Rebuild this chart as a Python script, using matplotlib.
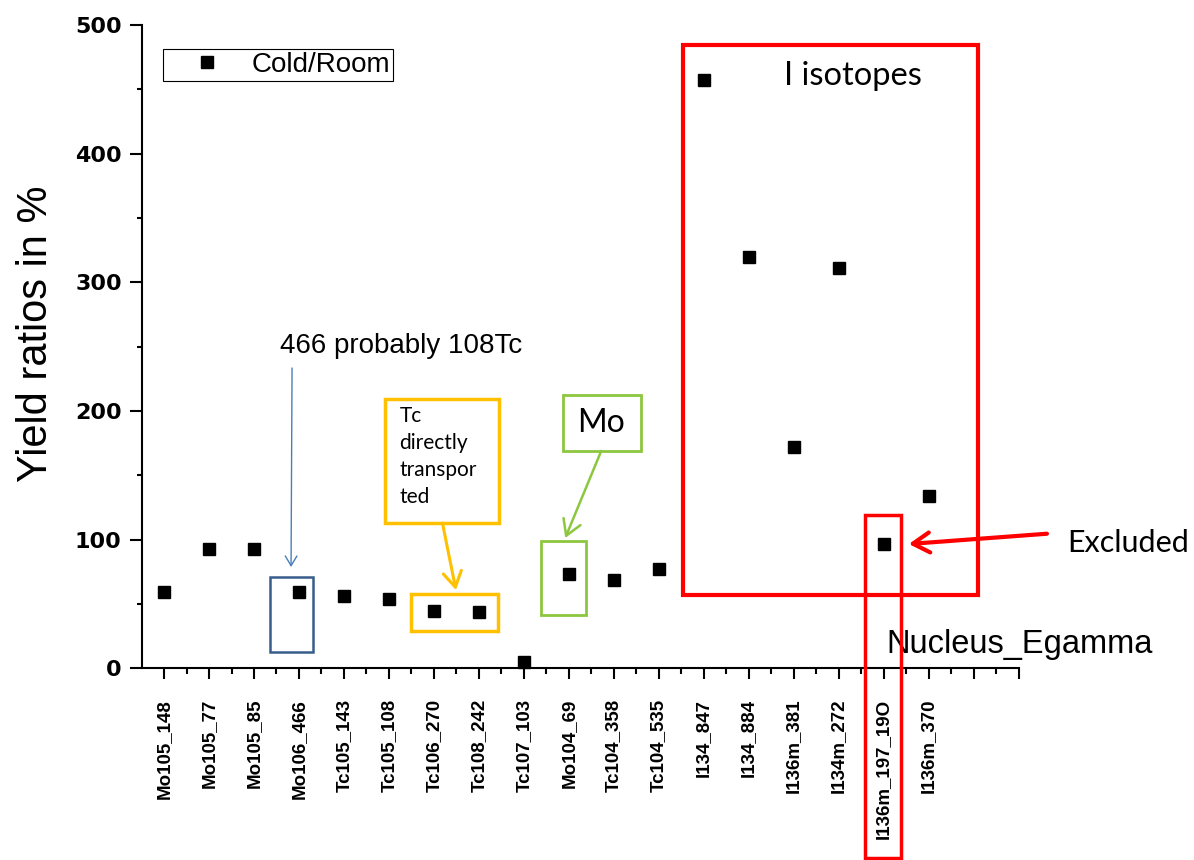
import numpy as np
import matplotlib.pyplot as plt
from matplotlib.patches import Rectangle
from matplotlib.ticker import MultipleLocator

# values
nuclei = ['Mo105_148', 'Mo105_77', 'Mo105_85', 'Mo106_466', 'Tc105_143',
          'Tc105_108', 'Tc106_270', 'Tc108_242', 'Tc107_103', 'Mo104_69',
          'Tc104_358', 'Tc104_535', 'I134_847', 'I134_884', 'I136m_381',
          'I134m_272', 'I136m_197_19O', 'I136m_370']
ratios = [59, 93, 93, 59, 56.4, 53.6, 44.9, 44.1, 5.1, 73.5,
          68.6, 77.2, 457, 320, 171.7, 311, 96.9, 133.7]
yticks = [0, 100, 200, 300, 400, 500]

ARIAL = 'Liberation Sans'
CALIBRI = 'Lato'
RED = '#ff0000'
ORANGE = '#ffc000'
GREEN = '#8dc63f'
BLUE_LINE = '#4a7ebb'
BLUE_BOX = '#385d8a'

fig = plt.figure(figsize=(11.94, 8.6), dpi=100)
ax = fig.add_axes([142 / 1194, 191.7 / 860, 876.6 / 1194, 643.3 / 860])

x = np.arange(len(nuclei))
ax.plot(x, ratios, 's', color='black', ms=9, label='Cold/Room',
        clip_on=False, zorder=5)

ax.set_xlim(-0.49, 19.0)
ax.set_ylim(0, 500)

for side in ['top', 'right']:
    ax.spines[side].set_visible(False)
for side in ['left', 'bottom']:
    ax.spines[side].set_linewidth(1.5)

ax.set_xticks(np.arange(20))
ax.set_xticklabels(nuclei + ['', ''], rotation=90, fontsize=13.5,
                   fontweight='bold', family=ARIAL)
ax.xaxis.set_minor_locator(MultipleLocator(1, offset=0.5))
ax.set_yticks(yticks)
ax.set_yticklabels([str(v) for v in yticks], fontsize=16,
                   fontweight='bold', family='DejaVu Sans')
ax.yaxis.set_minor_locator(MultipleLocator(50))
ax.tick_params(axis='x', which='major', length=8, width=1.5, pad=14)
ax.tick_params(axis='x', which='minor', length=4, width=1.5)
ax.tick_params(axis='y', which='major', length=8.6, width=1.5, pad=6)
ax.tick_params(axis='y', which='minor', length=3.6, width=1.5)

ax.set_ylabel('Yield ratios in %', fontsize=30, family=ARIAL)
ax.yaxis.set_label_coords(-0.098, 0.52)

leg = ax.legend(loc='upper left', bbox_to_anchor=(163 / 1194, 1 - 49 / 860),
                bbox_transform=fig.transFigure, fancybox=False,
                edgecolor='black', framealpha=1, borderpad=0.1,
                handlelength=3.0, handletextpad=0.1, borderaxespad=0,
                numpoints=1, prop=dict(family=ARIAL, size=20))
leg.get_frame().set_linewidth(0.8)

# x axis title placed like in the original
ax.text(16.07, 12.1, 'Nucleus_Egamma', fontsize=23.5, family=ARIAL,
        va='baseline', ha='left', clip_on=False)

# boxes drawn over the chart
boxes = [
    ((2.346, 12.7), 0.967, 58.3, BLUE_BOX, 1.8),
    ((5.49, 29.0), 1.94, 28.7, ORANGE, 2.5),
    ((4.91, 112.9), 2.54, 96.4, ORANGE, 2.5),
    ((8.38, 41.4), 1.0, 57.5, GREEN, 2.0),
    ((8.87, 168.9), 1.74, 43.5, GREEN, 2.0),
    ((11.54, 57.0), 6.56, 427.8, RED, 3.0),
    ((15.59, -147.4), 0.8, 266.5, RED, 2.5),
]
for (x0, y0), w, h, col, lw in boxes:
    ax.add_patch(Rectangle((x0, y0), w, h, fill=False, ec=col, lw=lw,
                           clip_on=False, zorder=4))

# arrows
arrows = [
    ((2.846, 233.4), (2.824, 78.7), BLUE_LINE, 1.0, 14),
    ((6.19, 112.9), (6.49, 60.8), ORANGE, 2.2, 22),
    ((9.72, 168.9), (8.92, 101.3), GREEN, 1.8, 22),
    ((19.63, 104.6), (16.56, 96.6), RED, 3.0, 24),
]
for start, end, col, lw, ms in arrows:
    ax.annotate('', xy=end, xytext=start, annotation_clip=False,
                arrowprops=dict(arrowstyle='->,head_length=0.5,head_width=0.3',
                                color=col, lw=lw, shrinkA=0, shrinkB=0,
                                mutation_scale=ms))

ax.text(2.58, 245.1, '466 probably 108Tc', fontsize=20, family=ARIAL,
        va='baseline', ha='left')
ax.text(5.23, 204, 'Tc\ndirectly\ntranspor\nted', fontsize=15,
        family=CALIBRI, va='top', ha='left', linespacing=1.45)
ax.text(9.72, 190.6, 'Mo', fontsize=23, family=CALIBRI, va='center',
        ha='center')
ax.text(13.79, 453.3, 'I isotopes', fontsize=23.5, family=CALIBRI,
        va='baseline', ha='left')
ax.text(20.08, 90.7, 'Excluded', fontsize=22, family=CALIBRI,
        va='baseline', ha='left', clip_on=False)

fig.savefig('out.png', dpi=100)
